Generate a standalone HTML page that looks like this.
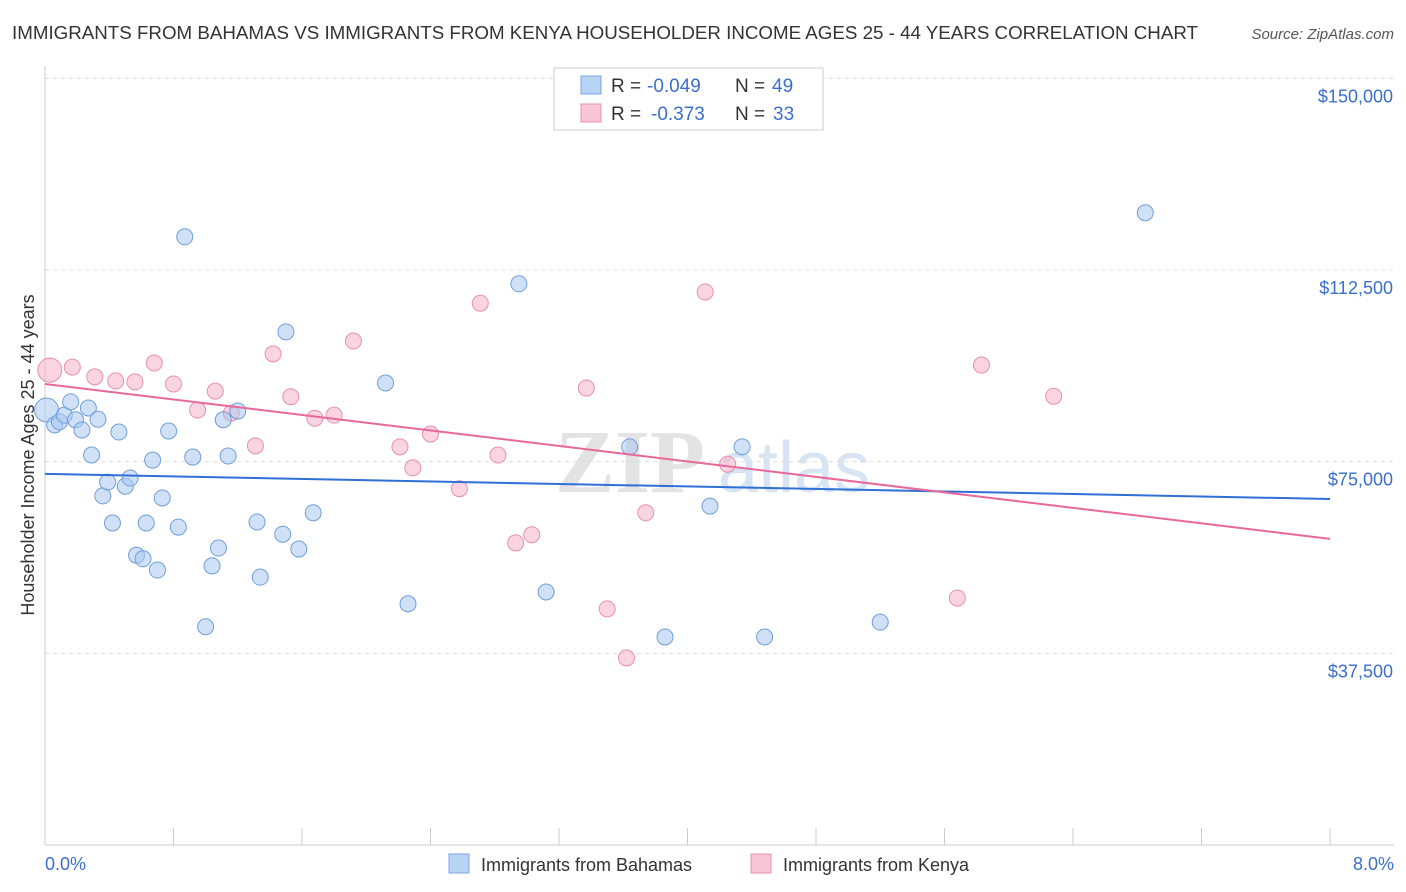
<!DOCTYPE html>
<html><head><meta charset="utf-8">
<style>
body{margin:0;background:#fff;font-family:"Liberation Sans",sans-serif;}
svg{display:block}
</style></head>
<body>
<svg id="chart" width="1406" height="892">
<text x="12" y="39" font-size="18" fill="#333" textLength="1186" lengthAdjust="spacingAndGlyphs">IMMIGRANTS FROM BAHAMAS VS IMMIGRANTS FROM KENYA HOUSEHOLDER INCOME AGES 25 - 44 YEARS CORRELATION CHART</text>
<text x="1394" y="39" font-size="15" fill="#555" font-style="italic" text-anchor="end">Source: ZipAtlas.com</text>
<text x="555" y="492" font-size="90" fill="#e3e3e3" font-family="Liberation Serif,serif" font-weight="bold">ZIP</text>
<text x="718" y="492" font-size="72" fill="#d6e4f4">atlas</text>
<g id="grid"></g><g id="axes"></g><g id="lines"></g><g id="pts"></g>
<text transform="translate(34,455) rotate(-90)" font-size="18" fill="#333" text-anchor="middle">Householder Income Ages 25 - 44 years</text>
<text x="45" y="870" font-size="18" fill="#3a6fd0">0.0%</text>
<text x="1394" y="870" font-size="18" fill="#3a6fd0" text-anchor="end">8.0%</text>
<g>
<rect x="554" y="68" width="269" height="62" fill="#fff" stroke="#ccc"/>
<rect x="581" y="76" width="20" height="18" fill="#b8d3f4" stroke="#7aa6e0"/>
<rect x="581" y="104" width="20" height="18" fill="#f8c6d6" stroke="#e890ad"/>
<text y="92" font-size="19" fill="#333"><tspan x="611">R =</tspan><tspan x="647" fill="#3a6fd0">-0.049</tspan><tspan x="735">N =</tspan><tspan x="772" fill="#3a6fd0">49</tspan></text>
<text y="120" font-size="19" fill="#333"><tspan x="611">R =</tspan><tspan x="651" fill="#3a6fd0">-0.373</tspan><tspan x="735">N =</tspan><tspan x="773" fill="#3a6fd0">33</tspan></text>
</g>
<g>
<rect x="449" y="854" width="20" height="19" fill="#b8d3f4" stroke="#7aa6e0"/>
<text x="481" y="871" font-size="18" fill="#333">Immigrants from Bahamas</text>
<rect x="751" y="854" width="20" height="19" fill="#f8c6d6" stroke="#e890ad"/>
<text x="783" y="871" font-size="18" fill="#333">Immigrants from Kenya</text>
</g>
</svg>
<script>
const yTicks=[37500,75000,112500,150000];
const yTickLabels=["$37,500","$75,000","$112,500","$150,000"];
const xTicks=[0,0.8,1.6,2.4,3.2,4.0,4.8,5.6,6.4,7.2,8.0];
const bahamasX=[0.01,0.06,0.09,0.12,0.16,0.19,0.23,0.27,0.29,0.33,0.36,0.39,0.42,0.46,0.50,0.53,0.57,0.61,0.63,0.67,0.70,0.73,0.77,0.83,0.87,0.92,1.00,1.04,1.08,1.11,1.14,1.20,1.32,1.34,1.48,1.50,1.58,1.67,2.12,2.26,2.95,3.12,3.64,3.86,4.14,4.34,4.48,5.20,6.85];
const bahamasY=[85.1,82.2,82.8,84.1,86.7,83.2,81.2,85.5,76.3,83.3,68.3,71.0,63.0,80.8,70.2,71.8,56.7,56.0,63.0,75.3,53.8,67.9,81.0,62.2,119.0,75.9,42.7,54.6,58.1,83.2,76.1,84.9,63.2,52.4,60.8,100.4,57.9,65.0,90.4,47.2,109.8,49.5,77.9,40.7,66.3,77.9,40.7,43.6,123.7];
const kenyaX=[0.03,0.17,0.31,0.44,0.56,0.68,0.80,0.95,1.06,1.16,1.31,1.42,1.53,1.68,1.80,1.92,2.21,2.29,2.40,2.58,2.71,2.82,2.93,3.03,3.37,3.50,3.62,3.74,4.11,4.25,5.68,5.83,6.28];
const kenyaY=[92.9,93.5,91.6,90.8,90.6,94.3,90.2,85.1,88.8,84.5,78.1,96.1,87.7,83.5,84.1,98.6,77.9,73.8,80.4,69.7,106.0,76.3,59.1,60.7,89.4,46.2,36.6,65.0,108.2,74.5,48.3,93.9,87.8];
const bahamasTrend=[72.6,67.7];
const kenyaTrend=[90.2,59.9];
const NS="http://www.w3.org/2000/svg";
function xs(v){return 45+v/8*1285;}
function ys(v){return 845-v/37500*191.67;}
function mk(p,t,a){const e=document.createElementNS(NS,t);for(const k in a)e.setAttribute(k,a[k]);p.appendChild(e);return e;}
const grid=document.getElementById('grid'),axes=document.getElementById('axes');
yTicks.forEach((t,i)=>{
 const l=mk(grid,'line',{x1:45,x2:1394,y1:ys(t),y2:ys(t),stroke:'#ddd','stroke-dasharray':'4,4'});
 
 
 const tx=mk(grid,'text',{x:1393,y:ys(t)+24,'font-size':18,fill:'#3a6fd0','text-anchor':'end'});
 tx.textContent=yTickLabels[i];
 
 
});
const ya=mk(axes,'line',{x1:45,x2:45,y1:66,y2:845,stroke:'#ccc'});


const xa=mk(axes,'line',{x1:45,x2:1394,y1:845,y2:845,stroke:'#ccc'});


xTicks.forEach(t=>{
 const l=mk(axes,'line',{x1:xs(t),x2:xs(t),y1:828,y2:845,stroke:'#ccc'});
 
 
});
const lines=document.getElementById('lines'),pts=document.getElementById('pts');
function series(X,Y,fill,stroke,name){
 X.forEach((x,i)=>{
  const c=mk(pts,'circle',{cx:xs(x),cy:ys(Y[i]*1000),r:(i==0?12:8),fill:fill,'fill-opacity':0.55,stroke:stroke,'stroke-width':1});
  
  
 });
}
series(kenyaX,kenyaY,'#f5b0c8','#e890ad','kenya-point');
series(bahamasX,bahamasY,'#a9c8f0','#6f9fdc','bahamas-point');
const bl=mk(lines,'line',{x1:xs(0),x2:xs(8),y1:ys(bahamasTrend[0]*1000),y2:ys(bahamasTrend[1]*1000),stroke:'#2f6fd6','stroke-width':2});


const kl=mk(lines,'line',{x1:xs(0),x2:xs(8),y1:ys(kenyaTrend[0]*1000),y2:ys(kenyaTrend[1]*1000),stroke:'#e8689a','stroke-width':2});


document.getElementById('chart').appendChild(lines);
</script>
</body></html>
